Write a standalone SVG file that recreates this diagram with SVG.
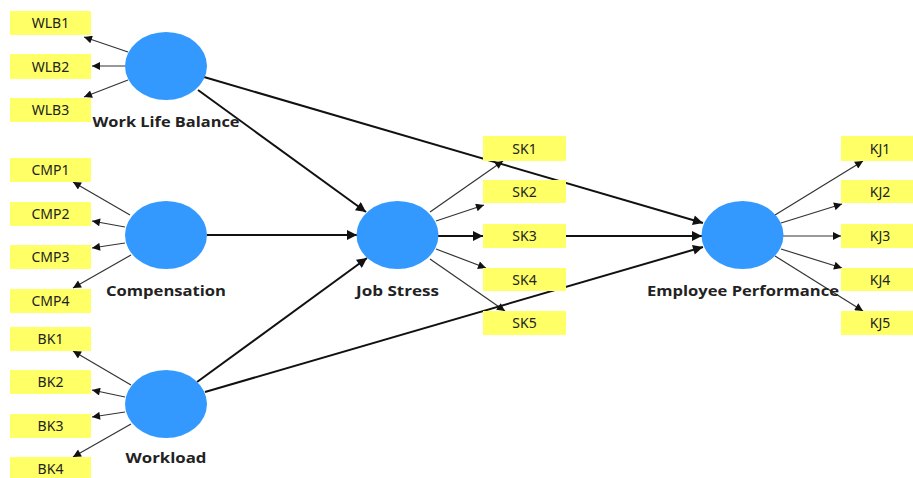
<svg xmlns="http://www.w3.org/2000/svg" width="913" height="478" viewBox="0 0 913 478">
<defs>
<style>
.ind rect{fill:#FFFF66}
.ind text{font-family:"Noto Sans","Open Sans",sans-serif;font-size:14px;fill:#222;text-anchor:middle}
.lv ellipse{fill:#3399FF}
.lv text{font-family:"Open Sans","Noto Sans",sans-serif;font-size:15px;font-weight:bold;fill:#222;text-anchor:middle}
.outer path{stroke:#333;stroke-width:1.2;fill:none;marker-end:url(#ah)}
.inner path{stroke:#111;stroke-width:2;fill:none;marker-end:url(#ahb)}
</style>
<marker id="ah" viewBox="0 0 10 10" refX="10" refY="5" markerWidth="11" markerHeight="8" markerUnits="userSpaceOnUse" orient="auto"><path d="M0,0 L10,5 L0,10 z" fill="#111"/></marker>
<marker id="ahb" viewBox="0 0 10 10" refX="10" refY="5" markerWidth="12" markerHeight="10" markerUnits="userSpaceOnUse" orient="auto"><path d="M0,0 L10,5 L0,10 z" fill="#111"/></marker>
</defs>
<rect width="913" height="478" fill="#fff"/>
<g id="connectors">
<g class="outer">
<path d="M128,52 L84,37"/>
<path d="M125,66 L92,66"/>
<path d="M128,80 L84,97"/>
<path d="M130,215 L73,182"/>
<path d="M125,227 L92,221"/>
<path d="M125,243 L92,248"/>
<path d="M131,255 L73,288"/>
<path d="M131,385 L73,351"/>
<path d="M125,397 L92,390"/>
<path d="M125,412 L92,417"/>
<path d="M131,424 L73,457"/>
<path d="M430,212 L503,161"/>
<path d="M436,221 L484,205"/>
<path d="M436,249 L486,268"/>
<path d="M430,259 L505,311"/>
<path d="M775,215 L863,161"/>
<path d="M781,223 L842,204"/>
<path d="M783,236 L841,236"/>
<path d="M781,249 L842,268"/>
<path d="M775,256 L863,311"/>
</g>
<g class="inner">
<path d="M438,236 L483,236"/>
<path d="M198,90 L366,212"/>
<path d="M204,77 L703,223"/>
<path d="M207,235 L357,235"/>
<path d="M197,382 L367,258"/>
<path d="M205,392 L703,247"/>
<path d="M438,236 L702,236"/>
</g>
</g>
<g id="WLB1" class="ind"><rect x="10" y="11" width="81" height="24"/><text x="50.5" y="28">WLB1</text></g>
<g id="WLB2" class="ind"><rect x="10" y="54" width="81" height="25"/><text x="50.5" y="71.5">WLB2</text></g>
<g id="WLB3" class="ind"><rect x="10" y="98" width="81" height="24"/><text x="50.5" y="115">WLB3</text></g>
<g id="CMP1" class="ind"><rect x="10" y="158" width="81" height="24"/><text x="50.5" y="175">CMP1</text></g>
<g id="CMP2" class="ind"><rect x="10" y="202" width="81" height="24"/><text x="50.5" y="219">CMP2</text></g>
<g id="CMP3" class="ind"><rect x="10" y="245" width="81" height="24"/><text x="50.5" y="262">CMP3</text></g>
<g id="CMP4" class="ind"><rect x="10" y="289" width="81" height="24"/><text x="50.5" y="306">CMP4</text></g>
<g id="BK1" class="ind"><rect x="10" y="327" width="81" height="24"/><text x="50.5" y="344">BK1</text></g>
<g id="BK2" class="ind"><rect x="10" y="370" width="81" height="24"/><text x="50.5" y="387">BK2</text></g>
<g id="BK3" class="ind"><rect x="10" y="414" width="81" height="24"/><text x="50.5" y="431">BK3</text></g>
<g id="BK4" class="ind"><rect x="10" y="457" width="81" height="24"/><text x="50.5" y="474">BK4</text></g>
<g id="SK1" class="ind"><rect x="483" y="136" width="83" height="25"/><text x="524.5" y="153.5">SK1</text></g>
<g id="SK2" class="ind"><rect x="483" y="180" width="83" height="23"/><text x="524.5" y="196.5">SK2</text></g>
<g id="SK3" class="ind"><rect x="483" y="224" width="83" height="24"/><text x="524.5" y="241">SK3</text></g>
<g id="SK4" class="ind"><rect x="483" y="268" width="83" height="23"/><text x="524.5" y="284.5">SK4</text></g>
<g id="SK5" class="ind"><rect x="483" y="311" width="83" height="24"/><text x="524.5" y="328">SK5</text></g>
<g id="KJ1" class="ind"><rect x="841" y="136" width="72" height="25"/><text x="880" y="153.5">KJ1</text></g>
<g id="KJ2" class="ind"><rect x="841" y="180" width="72" height="23"/><text x="880" y="196.5">KJ2</text></g>
<g id="KJ3" class="ind"><rect x="841" y="224" width="72" height="24"/><text x="880" y="241">KJ3</text></g>
<g id="KJ4" class="ind"><rect x="841" y="268" width="72" height="23"/><text x="880" y="284.5">KJ4</text></g>
<g id="KJ5" class="ind"><rect x="841" y="311" width="72" height="24"/><text x="880" y="328">KJ5</text></g>
<g id="WorkLifeBalance" class="lv"><ellipse cx="166" cy="66" rx="41" ry="34"/><text x="166" y="127" textLength="147" lengthAdjust="spacingAndGlyphs">Work Life Balance</text></g>
<g id="Compensation" class="lv"><ellipse cx="166" cy="235" rx="41" ry="34"/><text x="166" y="295.5" textLength="120" lengthAdjust="spacingAndGlyphs">Compensation</text></g>
<g id="Workload" class="lv"><ellipse cx="166" cy="404" rx="41" ry="34"/><text x="166" y="463" textLength="81" lengthAdjust="spacingAndGlyphs">Workload</text></g>
<g id="JobStress" class="lv"><ellipse cx="397.5" cy="235" rx="41" ry="34"/><text x="397.5" y="295.5" textLength="83" lengthAdjust="spacingAndGlyphs">Job Stress</text></g>
<g id="EmployeePerformance" class="lv"><ellipse cx="742.5" cy="235" rx="41" ry="34"/><text x="743" y="296" textLength="192" lengthAdjust="spacingAndGlyphs">Employee Performance</text></g>
</svg>
